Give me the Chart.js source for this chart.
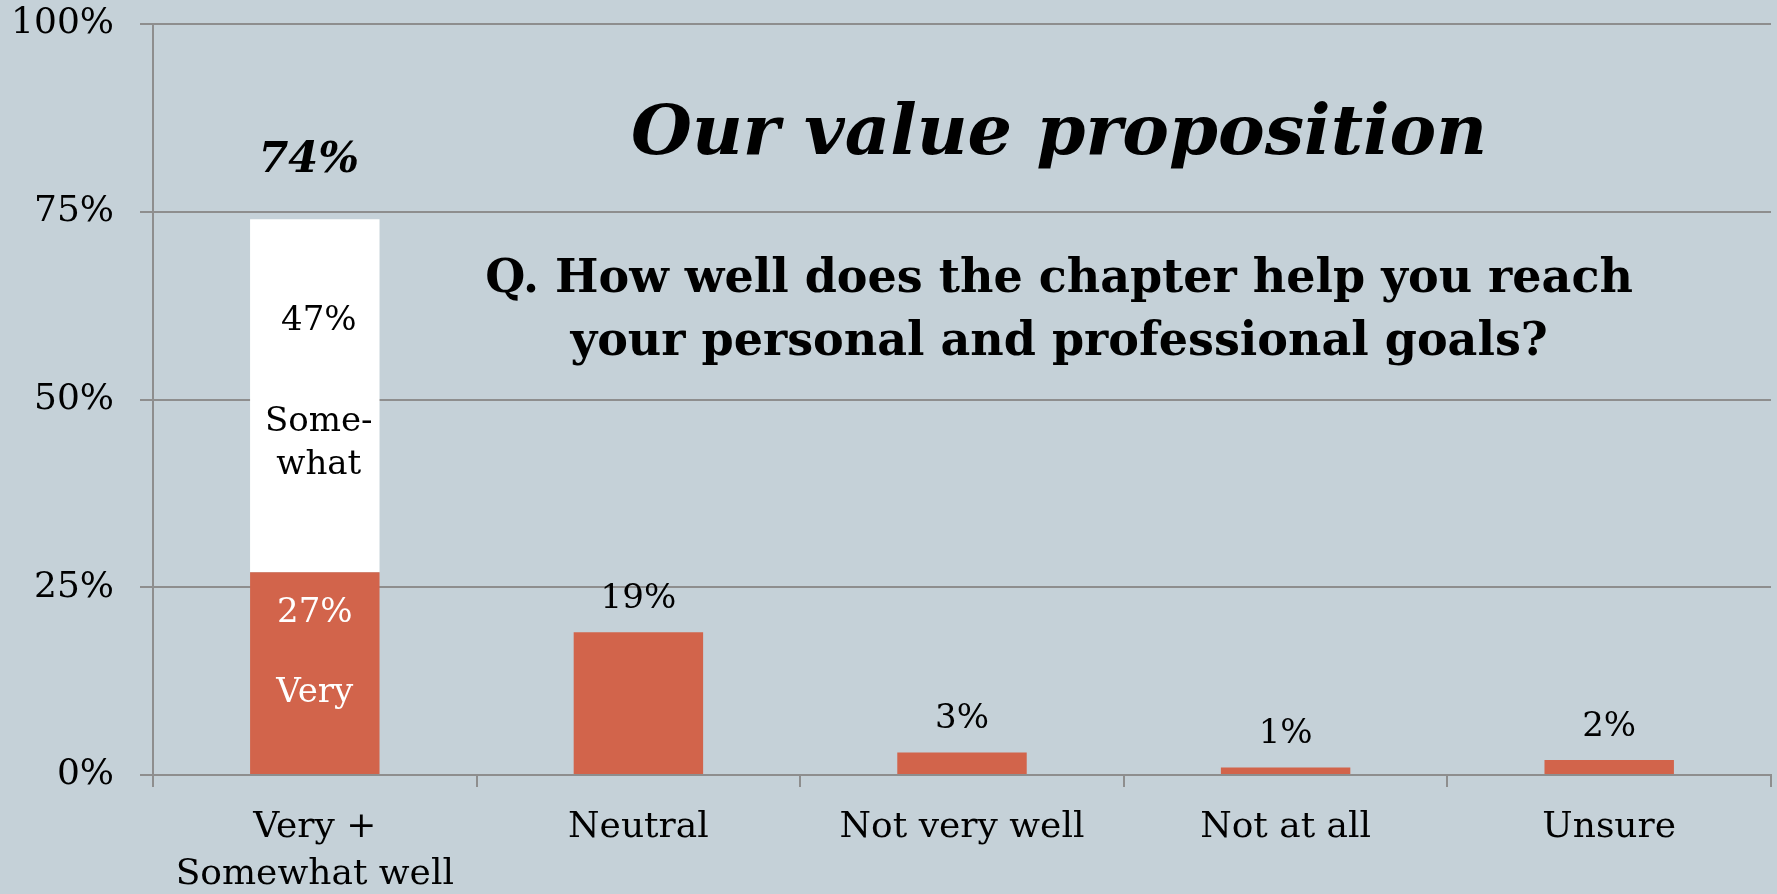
<!DOCTYPE html>
<html>
<head>
<meta charset="utf-8">
<script src="https://cdn.jsdelivr.net/npm/chart.js@4.4.1/dist/chart.umd.min.js"></script>
<style>
  html, body { margin: 0; padding: 0; background: #C5D1D8; }
  #wrap { width: 1777px; height: 894px; position: relative; }
</style>
</head>
<body>
<div id="wrap"><canvas id="chart"></canvas></div>
<script>
// survey answers, share of respondents in %
const categories = [['Very +', 'Somewhat well'], 'Neutral', 'Not very well', 'Not at all', 'Unsure'];
const veryValues = [27, 19, 3, 1, 2];
const somewhatValues = [47, null, null, null, null];
const yTickStep = 25;
const yMax = 100;

const titleText = 'Our value proposition';
const questionLines = ['Q. How well does the chapter help you reach', 'your personal and professional goals?'];

const SERIF = 'Georgia, "DejaVu Serif", serif';
const BAR_COLOR = '#D2644B';
const GRID_COLOR = '#8E8E8E';

const labelPlugin = {
    id: 'barLabels',
    afterDatasetsDraw(chart) {
        const ctx = chart.ctx;
        const area = chart.chartArea;
        const veryBars = chart.getDatasetMeta(0).data;
        const someBars = chart.getDatasetMeta(1).data;

        ctx.save();
        ctx.textAlign = 'center';
        ctx.textBaseline = 'middle';

        // stacked first column: inner labels + total on top
        const vb = veryBars[0];
        const sb = someBars[0];
        ctx.font = `34px ${SERIF}`;
        ctx.fillStyle = '#FFFFFF';
        ctx.fillText(veryValues[0] + '%', vb.x, vb.y + 41);
        ctx.fillText('Very', vb.x, vb.y + 121);
        ctx.fillStyle = '#000000';
        ctx.fillText(somewhatValues[0] + '%', sb.x + 4, sb.y + 102);
        ctx.fillText('Some-', sb.x + 4, sb.y + 203);
        ctx.fillText('what', sb.x + 4, sb.y + 246);

        ctx.font = `italic bold 43px ${SERIF}`;
        ctx.fillText((veryValues[0] + somewhatValues[0]) + '%', sb.x - 6, sb.y - 58);

        // plain value labels above the other bars
        ctx.font = `34px ${SERIF}`;
        for (let i = 1; i < veryBars.length; i++) {
            ctx.fillText(veryValues[i] + '%', veryBars[i].x, veryBars[i].y - 33);
        }

        // heading text inside the plot
        const cx = area.left + area.width * 0.56;
        ctx.textBaseline = 'alphabetic';
        ctx.font = `italic bold 70px ${SERIF}`;
        ctx.fillText(titleText, cx, 154);
        ctx.font = `bold 46px ${SERIF}`;
        ctx.fillText(questionLines[0], cx, 292);
        ctx.fillText(questionLines[1], cx, 355);
        ctx.restore();
    }
};

new Chart(document.getElementById('chart'), {
    type: 'bar',
    data: {
        labels: categories,
        datasets: [
            {
                label: 'Very',
                data: veryValues,
                backgroundColor: BAR_COLOR,
                barPercentage: 0.4,
                categoryPercentage: 1.0
            },
            {
                label: 'Somewhat',
                data: somewhatValues,
                backgroundColor: '#FFFFFF',
                barPercentage: 0.4,
                categoryPercentage: 1.0
            }
        ]
    },
    options: {
        responsive: true,
        maintainAspectRatio: false,
        animation: false,
        layout: { padding: { top: 24, right: 6, left: 0, bottom: 0 } },
        plugins: {
            legend: { display: false },
            tooltip: { enabled: false }
        },
        scales: {
            x: {
                stacked: true,
                grid: {
                    display: true,
                    drawOnChartArea: false,
                    drawTicks: true,
                    tickLength: 12,
                    color: GRID_COLOR,
                    lineWidth: 2
                },
                border: { display: true, color: GRID_COLOR, width: 2 },
                ticks: {
                    color: '#000000',
                    padding: 17,
                    font: { family: SERIF, size: 36, lineHeight: 1.3 },
                    maxRotation: 0,
                    autoSkip: false
                },
                afterFit(scale) { scale.height = 119; }
            },
            y: {
                stacked: true,
                min: 0,
                max: yMax,
                grid: {
                    color: GRID_COLOR,
                    lineWidth: 2,
                    drawTicks: true,
                    tickLength: 13
                },
                border: { display: true, color: GRID_COLOR, width: 2 },
                ticks: {
                    stepSize: yTickStep,
                    color: '#000000',
                    padding: 26,
                    font: { family: SERIF, size: 36 },
                    callback: v => v + '%'
                },
                afterFit(scale) {
                    scale.width = 153;
                    // top label may overhang the plot; keep the plot top fixed
                    scale.paddingTop = 0;
                }
            }
        }
    },
    plugins: [labelPlugin]
});
</script>
</body>
</html>
